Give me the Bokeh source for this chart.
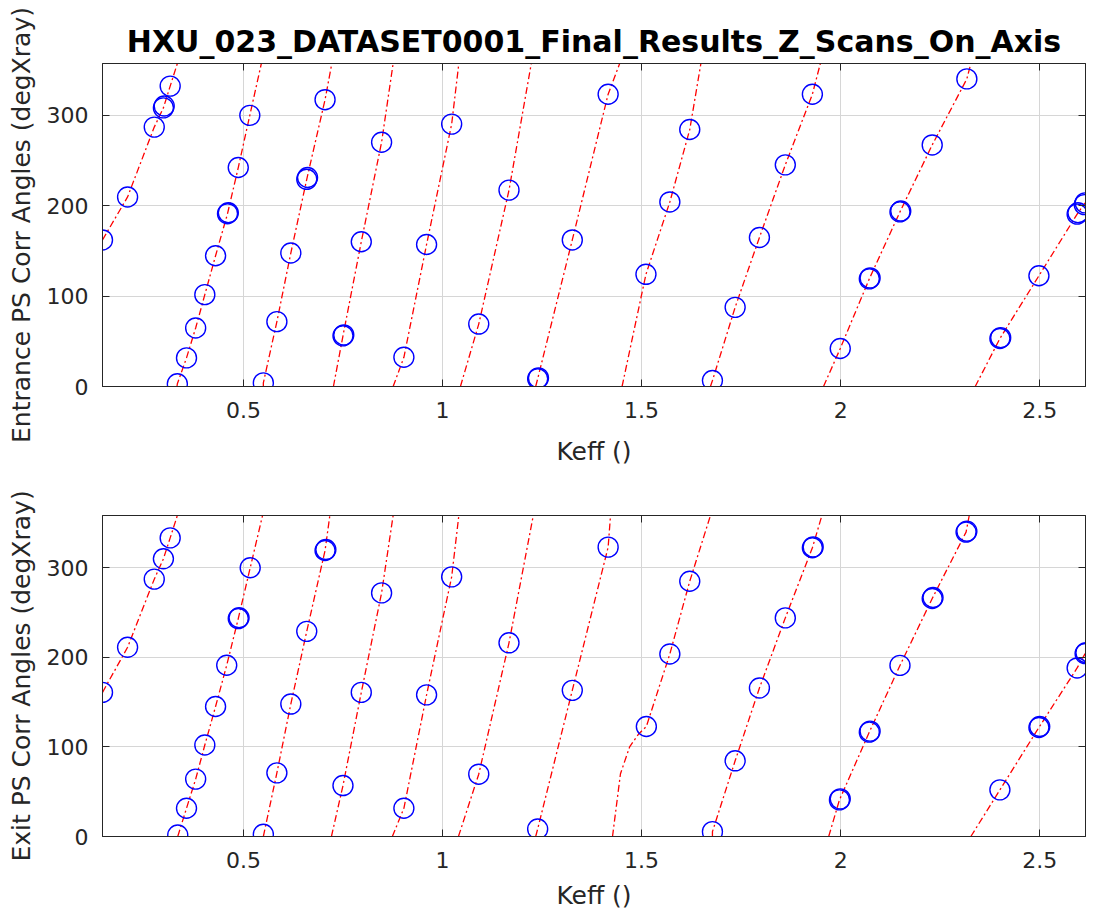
from bokeh.plotting import figure
from bokeh.models import Range1d, LinearAxis, FixedTicker
from bokeh.layouts import column
from bokeh.embed import file_html
from bokeh.resources import INLINE

TITLE = "HXU_023_DATASET0001_Final_Results_Z_Scans_On_Axis"
X_LABEL = "Keff ()"
TOP_Y_LABEL = "Entrance PS Corr Angles (degXray)"
BOT_Y_LABEL = "Exit PS Corr Angles (degXray)"

x_ticks = [0.5, 1, 1.5, 2, 2.5]
x_tick_labels = ["0.5", "1", "1.5", "2", "2.5"]
y_ticks = [0, 100, 200, 300]
y_tick_labels = ["0", "100", "200", "300"]

x_min, x_max = 0.146, 2.615
top_y_max = 357
bot_y_max = 358

# Entrance (top) panel: measured points
top_pt_x = [0.146, 0.209, 0.276, 0.299, 0.301, 0.316, 0.334, 0.357, 0.380, 0.403,
            0.430, 0.460, 0.462, 0.487, 0.516, 0.550, 0.584, 0.619, 0.659, 0.661,
            0.705, 0.750, 0.752, 0.796, 0.847, 0.903, 0.960, 1.023, 1.091, 1.167,
            1.239, 1.241, 1.326, 1.416, 1.511, 1.571, 1.621, 1.678, 1.735, 1.796,
            1.861, 1.929, 1.999, 2.072, 2.074, 2.149, 2.151, 2.230, 2.317, 2.400,
            2.402, 2.498, 2.594, 2.596, 2.614, 2.612]
top_pt_y = [162, 209.5, 286.7, 308, 310, 332, 3, 31.6, 64.7, 101.5,
            144.5, 191, 192, 242, 299.7, 4, 71.7, 147.5, 229, 231,
            317, 56, 57, 160, 270, 32.3, 157, 290, 69, 217,
            8.5, 9.5, 162, 323, 124, 204, 284, 6.6, 87.5, 164.7,
            245, 323, 42, 119, 120, 193, 194, 267, 340, 53,
            54, 122.4, 190.5, 192, 203, 201]

# Entrance (top) panel: fitted curve, wrapped at 360 deg
top_seg_x = [
    [0.146, 0.209, 0.276, 0.299, 0.316, 0.334],
    [0.333, 0.334, 0.357, 0.380, 0.403, 0.430, 0.460, 0.487, 0.516, 0.545],
    [0.550, 0.550, 0.584, 0.619, 0.659, 0.705, 0.722],
    [0.726, 0.750, 0.796, 0.847, 0.876],
    [0.876, 0.903, 0.960, 1.023, 1.041],
    [1.045, 1.091, 1.167, 1.223],
    [1.234, 1.239, 1.326, 1.416, 1.445],
    [1.451, 1.511, 1.571, 1.621, 1.649],
    [1.673, 1.678, 1.735, 1.796, 1.861, 1.929, 1.949],
    [1.957, 1.999, 2.072, 2.149, 2.230, 2.317, 2.327],
    [2.338, 2.400, 2.498, 2.594, 2.614],
]
top_seg_y = [
    [162, 209.5, 286.7, 308, 332, 357],
    [0, 3, 31.6, 64.7, 101.5, 144.5, 191, 242, 299.7, 357],
    [0, 4, 71.7, 147.5, 229, 317, 357],
    [0, 56, 160, 270, 357],
    [0, 32.3, 157, 290, 357],
    [0, 69, 217, 357],
    [0, 8.5, 162, 323, 357],
    [0, 124, 204, 284, 357],
    [0, 6.6, 87.5, 164.7, 245, 323, 357],
    [0, 42, 119, 193, 267, 340, 357],
    [0, 53, 122.4, 190.5, 203],
]

# Exit (bottom) panel: measured points
bot_pt_x = [0.146, 0.209, 0.276, 0.299, 0.316, 0.335, 0.357, 0.380, 0.403, 0.430,
            0.458, 0.487, 0.489, 0.517, 0.550, 0.584, 0.619, 0.659, 0.705, 0.707,
            0.750, 0.796, 0.847, 0.903, 0.960, 1.023, 1.091, 1.167, 1.239, 1.326,
            1.416, 1.512, 1.571, 1.621, 1.678, 1.735, 1.796, 1.861, 1.929, 1.931,
            1.997, 1.999, 2.072, 2.074, 2.149, 2.230, 2.232, 2.315, 2.317, 2.400,
            2.498, 2.500, 2.594, 2.614, 2.616]
bot_pt_y = [160.7, 211, 287, 309.7, 333, 1.7, 31.5, 64, 102, 145,
            191, 243, 244, 299.7, 2.5, 71, 147.7, 228.8, 319, 320,
            56.8, 160.7, 271.7, 31.5, 158, 289.6, 69.5, 216, 8.4, 163,
            322.7, 122.7, 203.6, 284.7, 5.4, 84.4, 165.6, 243.8, 322, 323,
            40.8, 42, 116.4, 117.5, 190.8, 265.4, 266.5, 339.5, 340.5, 52,
            121.6, 122.7, 188, 204, 205]

# Exit (bottom) panel: fitted curve, wrapped at 360 deg
bot_seg_x = [
    [0.146, 0.209, 0.276, 0.299, 0.316, 0.334],
    [0.335, 0.357, 0.380, 0.403, 0.430, 0.458, 0.487, 0.517, 0.548],
    [0.550, 0.584, 0.619, 0.659, 0.705, 0.717],
    [0.721, 0.750, 0.796, 0.847, 0.876],
    [0.874, 0.903, 0.960, 1.023, 1.041],
    [1.040, 1.091, 1.167, 1.228],
    [1.234, 1.239, 1.326, 1.416, 1.422],
    [1.427, 1.447, 1.470, 1.492, 1.512, 1.571, 1.621, 1.673],
    [1.678, 1.678, 1.735, 1.796, 1.861, 1.929, 1.953],
    [1.970, 1.997, 2.072, 2.149, 2.230, 2.315, 2.323],
    [2.327, 2.400, 2.498, 2.594, 2.614],
]
bot_seg_y = [
    [160.7, 211, 287, 309.7, 333, 358],
    [0, 31.5, 64, 102, 145, 191, 243, 299.7, 358],
    [0, 71, 147.7, 228.8, 319, 358],
    [0, 56.8, 160.7, 271.7, 358],
    [0, 31.5, 158, 289.6, 358],
    [0, 69.5, 216, 358],
    [0, 8.4, 163, 322.7, 358],
    [0, 70, 100, 114, 122.7, 203.6, 284.7, 358],
    [0, 5.4, 84.4, 165.6, 243.8, 322, 358],
    [0, 40.8, 116.4, 190.8, 265.4, 339.5, 358],
    [0, 52, 121.6, 188, 204],
]

FONT = "DejaVu Sans"
AX_COLOR = "#262626"
GRID_COLOR = "#d6d6d6"


def box_axis(ticks, standoff=0):
    # unlabelled axis that only draws inward ticks on the opposite side of the box
    return LinearAxis(ticker=FixedTicker(ticks=ticks),
                      major_label_overrides={t: "" for t in ticks},
                      major_label_standoff=standoff, major_tick_in=7, major_tick_out=0,
                      minor_tick_line_color=None, axis_line_color=AX_COLOR,
                      major_tick_line_color=AX_COLOR)


def make_panel(pt_x, pt_y, seg_x, seg_y, y_max, y_label, height, border_top,
               border_bottom, tick_standoff, label_standoff, title=None):
    p = figure(width=1094, height=height,
               x_range=Range1d(x_min, x_max), y_range=Range1d(0, y_max),
               output_backend="svg", toolbar_location=None,
               min_border_left=102, min_border_right=9,
               min_border_top=border_top, min_border_bottom=border_bottom,
               x_axis_label=X_LABEL, y_axis_label=y_label)
    p.background_fill_color = "white"
    p.border_fill_color = "white"
    p.outline_line_color = AX_COLOR
    p.outline_line_width = 1
    p.outline_line_alpha = 1

    if title:
        p.title.text = title
        p.title.align = "center"
        p.title.text_font = FONT
        p.title.text_font_size = "30px"
        p.title.text_font_style = "bold"
        p.title.text_color = "black"

    p.xgrid.ticker = FixedTicker(ticks=x_ticks)
    p.ygrid.ticker = FixedTicker(ticks=y_ticks)
    for g in (p.xgrid[0], p.ygrid[0]):
        g.grid_line_color = GRID_COLOR
        g.grid_line_width = 1

    xa = p.xaxis[0]
    xa.ticker = FixedTicker(ticks=x_ticks)
    xa.major_label_overrides = {t: l for t, l in zip(x_ticks, x_tick_labels)}
    ya = p.yaxis[0]
    ya.ticker = FixedTicker(ticks=y_ticks)
    ya.major_label_overrides = {t: l for t, l in zip(y_ticks, y_tick_labels)}
    for a in (xa, ya):
        a.axis_line_color = AX_COLOR
        a.major_tick_line_color = AX_COLOR
        a.major_tick_in = 7
        a.major_tick_out = 0
        a.minor_tick_line_color = None
        a.major_label_text_font = FONT
        a.major_label_text_font_size = "22px"
        a.major_label_text_color = AX_COLOR
        a.axis_label_text_font = FONT
        a.axis_label_text_font_size = "25px"
        a.axis_label_text_font_style = "normal"
        a.axis_label_text_color = AX_COLOR
    xa.major_label_standoff = tick_standoff
    xa.axis_label_standoff = label_standoff
    ya.major_label_standoff = 14
    ya.axis_label_standoff = 8

    p.add_layout(box_axis(y_ticks), "right")
    p.add_layout(box_axis(x_ticks, standoff=4 if title else 0), "above")

    p.multi_line(xs=seg_x, ys=seg_y, line_color="#ff0000", line_width=1.3,
                 line_dash="7 3 2 3")
    p.scatter(x=pt_x, y=pt_y, marker="circle", size=20, fill_color=None,
              line_color="#0000ff", line_width=1.4)
    return p


p_top = make_panel(top_pt_x, top_pt_y, top_seg_x, top_seg_y, top_y_max, TOP_Y_LABEL,
                   height=474, border_top=63, border_bottom=88,
                   tick_standoff=15, label_standoff=16, title=TITLE)
p_bot = make_panel(bot_pt_x, bot_pt_y, bot_seg_x, bot_seg_y, bot_y_max, BOT_Y_LABEL,
                   height=443, border_top=41, border_bottom=81,
                   tick_standoff=15, label_standoff=10)

layout = column(p_top, p_bot, spacing=0)
open("out.html", "w").write(file_html(layout, INLINE))
